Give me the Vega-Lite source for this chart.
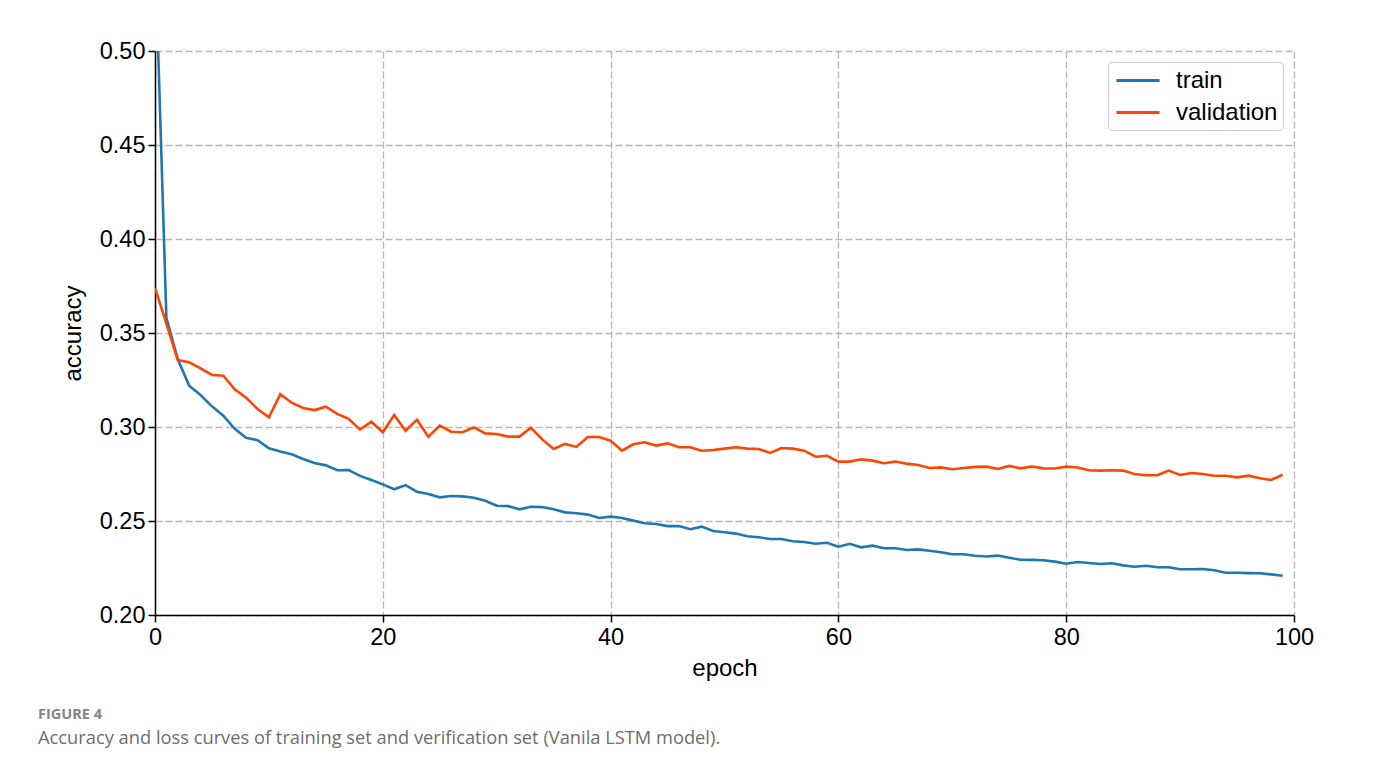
{
  "$schema": "https://vega.github.io/schema/vega-lite/v6.json",
  "autosize": {"type": "none"},
  "width": 1139,
  "height": 564,
  "padding": {"left": 155, "top": 51, "right": 81, "bottom": 155},
  "background": "white",
  "data": {"values": [
    {"epoch":0,"train":0.555,"validation":0.374},
    {"epoch":1,"train":0.358,"validation":0.355},
    {"epoch":2,"train":0.336,"validation":0.3356},
    {"epoch":3,"train":0.322,"validation":0.3344},
    {"epoch":4,"train":0.317,"validation":0.3312},
    {"epoch":5,"train":0.311,"validation":0.3277},
    {"epoch":6,"train":0.306,"validation":0.3273},
    {"epoch":7,"train":0.299,"validation":0.320},
    {"epoch":8,"train":0.2943,"validation":0.3156},
    {"epoch":9,"train":0.293,"validation":0.3096},
    {"epoch":10,"train":0.2887,"validation":0.3052},
    {"epoch":11,"train":0.287,"validation":0.3174},
    {"epoch":12,"train":0.2855,"validation":0.3129},
    {"epoch":13,"train":0.283,"validation":0.3101},
    {"epoch":14,"train":0.2808,"validation":0.309},
    {"epoch":15,"train":0.2796,"validation":0.3108},
    {"epoch":16,"train":0.277,"validation":0.307},
    {"epoch":17,"train":0.2771,"validation":0.3043},
    {"epoch":18,"train":0.274,"validation":0.2986},
    {"epoch":19,"train":0.2718,"validation":0.3028},
    {"epoch":20,"train":0.2695,"validation":0.2972},
    {"epoch":21,"train":0.2669,"validation":0.3064},
    {"epoch":22,"train":0.2691,"validation":0.298},
    {"epoch":23,"train":0.2656,"validation":0.3039},
    {"epoch":24,"train":0.2644,"validation":0.2948},
    {"epoch":25,"train":0.2626,"validation":0.3007},
    {"epoch":26,"train":0.2633,"validation":0.2975},
    {"epoch":27,"train":0.2631,"validation":0.2972},
    {"epoch":28,"train":0.2624,"validation":0.2998},
    {"epoch":29,"train":0.2608,"validation":0.2966},
    {"epoch":30,"train":0.2581,"validation":0.2963},
    {"epoch":31,"train":0.2579,"validation":0.2949},
    {"epoch":32,"train":0.2562,"validation":0.2949},
    {"epoch":33,"train":0.2576,"validation":0.2996},
    {"epoch":34,"train":0.2574,"validation":0.2934},
    {"epoch":35,"train":0.2562,"validation":0.2883},
    {"epoch":36,"train":0.2546,"validation":0.291},
    {"epoch":37,"train":0.2541,"validation":0.2894},
    {"epoch":38,"train":0.2534,"validation":0.2947},
    {"epoch":39,"train":0.2516,"validation":0.2947},
    {"epoch":40,"train":0.2523,"validation":0.2927},
    {"epoch":41,"train":0.2516,"validation":0.2874},
    {"epoch":42,"train":0.2502,"validation":0.2908},
    {"epoch":43,"train":0.2488,"validation":0.2919},
    {"epoch":44,"train":0.2484,"validation":0.2901},
    {"epoch":45,"train":0.2473,"validation":0.2913},
    {"epoch":46,"train":0.2473,"validation":0.2892},
    {"epoch":47,"train":0.2456,"validation":0.2892},
    {"epoch":48,"train":0.247,"validation":0.2874},
    {"epoch":49,"train":0.2447,"validation":0.2878},
    {"epoch":50,"train":0.244,"validation":0.2885},
    {"epoch":51,"train":0.2433,"validation":0.2892},
    {"epoch":52,"train":0.2419,"validation":0.2885},
    {"epoch":53,"train":0.2414,"validation":0.2883},
    {"epoch":54,"train":0.2404,"validation":0.2862},
    {"epoch":55,"train":0.2404,"validation":0.2888},
    {"epoch":56,"train":0.2392,"validation":0.2885},
    {"epoch":57,"train":0.2388,"validation":0.2874},
    {"epoch":58,"train":0.2379,"validation":0.2842},
    {"epoch":59,"train":0.2384,"validation":0.2847},
    {"epoch":60,"train":0.2363,"validation":0.2816},
    {"epoch":61,"train":0.2379,"validation":0.2816},
    {"epoch":62,"train":0.236,"validation":0.2828},
    {"epoch":63,"train":0.2369,"validation":0.2821},
    {"epoch":64,"train":0.2355,"validation":0.2807},
    {"epoch":65,"train":0.2355,"validation":0.2816},
    {"epoch":66,"train":0.2346,"validation":0.2805},
    {"epoch":67,"train":0.2349,"validation":0.2798},
    {"epoch":68,"train":0.2342,"validation":0.2782},
    {"epoch":69,"train":0.2334,"validation":0.2785},
    {"epoch":70,"train":0.2323,"validation":0.2775},
    {"epoch":71,"train":0.2323,"validation":0.2782},
    {"epoch":72,"train":0.2315,"validation":0.2788},
    {"epoch":73,"train":0.2311,"validation":0.2789},
    {"epoch":74,"train":0.2316,"validation":0.2777},
    {"epoch":75,"train":0.2305,"validation":0.2793},
    {"epoch":76,"train":0.2294,"validation":0.278},
    {"epoch":77,"train":0.2293,"validation":0.279},
    {"epoch":78,"train":0.2291,"validation":0.278},
    {"epoch":79,"train":0.2284,"validation":0.2779},
    {"epoch":80,"train":0.2273,"validation":0.2789},
    {"epoch":81,"train":0.2282,"validation":0.2785},
    {"epoch":82,"train":0.2277,"validation":0.277},
    {"epoch":83,"train":0.2271,"validation":0.2768},
    {"epoch":84,"train":0.2275,"validation":0.277},
    {"epoch":85,"train":0.2264,"validation":0.2768},
    {"epoch":86,"train":0.2257,"validation":0.275},
    {"epoch":87,"train":0.2262,"validation":0.2743},
    {"epoch":88,"train":0.2254,"validation":0.2743},
    {"epoch":89,"train":0.2254,"validation":0.2768},
    {"epoch":90,"train":0.2243,"validation":0.2745},
    {"epoch":91,"train":0.2243,"validation":0.2755},
    {"epoch":92,"train":0.2245,"validation":0.275},
    {"epoch":93,"train":0.2238,"validation":0.2741},
    {"epoch":94,"train":0.2225,"validation":0.2741},
    {"epoch":95,"train":0.2225,"validation":0.2732},
    {"epoch":96,"train":0.2223,"validation":0.2741},
    {"epoch":97,"train":0.2222,"validation":0.2727},
    {"epoch":98,"train":0.2216,"validation":0.2718},
    {"epoch":99,"train":0.2209,"validation":0.2746}
  ]},
  "transform": [{"fold": ["train", "validation"], "as": ["series", "value"]}],
  "title": {
    "text": "FIGURE 4",
    "subtitle": "Accuracy and loss curves of training set and verification set (Vanila LSTM model).",
    "orient": "bottom",
    "anchor": "start",
    "frame": "group",
    "dx": -117,
    "offset": 27,
    "font": "Open Sans",
    "fontSize": 14.5,
    "fontWeight": "bold",
    "color": "#858585",
    "subtitleFont": "Open Sans",
    "subtitleFontSize": 18.3,
    "subtitleColor": "#6e6e6e",
    "subtitlePadding": 8
  },
  "mark": {"type": "line", "strokeWidth": 2.6, "clip": true},
  "encoding": {
    "x": {
      "field": "epoch", "type": "quantitative",
      "scale": {"domain": [0, 100], "nice": false, "zero": false},
      "axis": {"values": [0, 20, 40, 60, 80, 100], "title": "epoch"}
    },
    "y": {
      "field": "value", "type": "quantitative",
      "scale": {"domain": [0.2, 0.5], "nice": false, "zero": false},
      "axis": {"values": [0.2, 0.25, 0.3, 0.35, 0.4, 0.45, 0.5], "format": ".2f", "title": "accuracy"}
    },
    "color": {
      "field": "series", "type": "nominal",
      "scale": {"domain": ["train", "validation"], "range": ["#1f77b4", "#ff4500"]},
      "legend": {"title": null}
    }
  },
  "config": {
    "view": {"stroke": null},
    "font": "Liberation Sans",
    "axis": {
      "labelFont": "Liberation Sans",
      "labelFontSize": 23.5,
      "labelColor": "#000000",
      "titleFont": "Liberation Sans",
      "titleFontSize": 24,
      "titleFontWeight": "normal",
      "titleColor": "#000000",
      "domainColor": "#000000",
      "domainWidth": 1.5,
      "tickColor": "#000000",
      "tickWidth": 1.5,
      "tickSize": 7,
      "labelPadding": 3,
      "gridColor": "#b8b8b8",
      "gridDash": [7, 3],
      "gridWidth": 1.3,
      "gridOpacity": 1
    },
    "axisX": {"titlePadding": 8, "labelFlush": false},
    "axisY": {"titlePadding": 14, "labelFlush": false},
    "legend": {
      "orient": "top-right",
      "offset": 11,
      "padding": 5,
      "fillColor": "white",
      "strokeColor": "#cccccc",
      "cornerRadius": 4,
      "labelFont": "Liberation Sans",
      "labelFontSize": 24,
      "labelColor": "#000000",
      "labelOffset": 24.5,
      "symbolType": "M-1.8,0L1.8,0",
      "symbolSize": 576,
      "symbolOffset": 11.5,
      "symbolStrokeWidth": 3,
      "rowPadding": 6
    }
  }
}
